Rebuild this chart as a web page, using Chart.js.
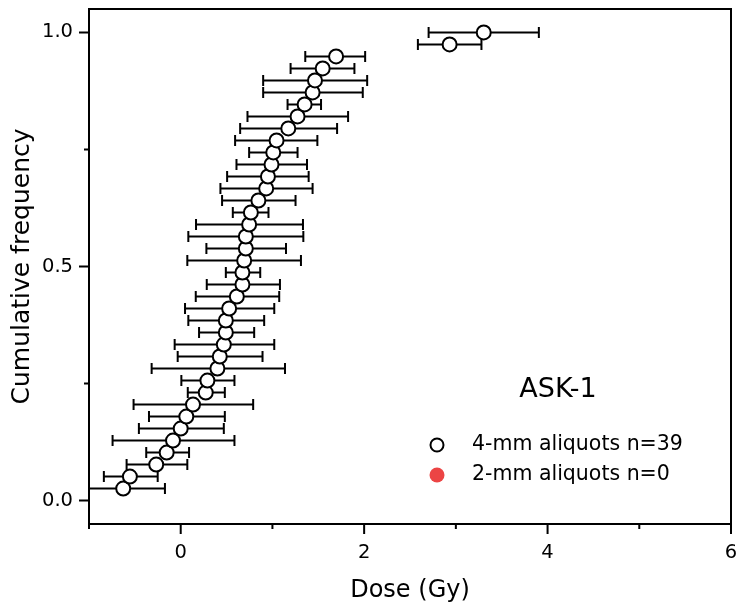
<!DOCTYPE html>
<html>
<head>
<meta charset="utf-8">
<script src="https://cdn.jsdelivr.net/npm/chart.js@4/dist/chart.umd.min.js"></script>
<style>
  html, body { margin: 0; padding: 0; background: #fff; }
  canvas { display: block; }
</style>
</head>
<body>
<canvas id="c" width="740" height="610"></canvas>
<script>
// ---- data ----
const cumFreq = [0.0256, 0.0513, 0.0769, 0.1026, 0.1282, 0.1538, 0.1795, 0.2051, 0.2308, 0.2564,
  0.2821, 0.3077, 0.3333, 0.3590, 0.3846, 0.4103, 0.4359, 0.4615, 0.4872, 0.5128,
  0.5385, 0.5641, 0.5897, 0.6154, 0.6410, 0.6667, 0.6923, 0.7179, 0.7436, 0.7692,
  0.7949, 0.8205, 0.8462, 0.8718, 0.8974, 0.9231, 0.9487, 0.9744, 1.0000];
const dose = [-0.627, -0.554, -0.267, -0.153, -0.084, 0.000, 0.061, 0.134, 0.273, 0.291,
  0.400, 0.426, 0.470, 0.492, 0.492, 0.528, 0.612, 0.673, 0.673, 0.692,
  0.710, 0.710, 0.746, 0.765, 0.847, 0.932, 0.951, 0.990, 1.009, 1.045,
  1.173, 1.274, 1.351, 1.438, 1.464, 1.548, 1.694, 2.932, 3.304];
const doseLow = [-1.100, -0.838, -0.590, -0.376, -0.743, -0.456, -0.346, -0.514, 0.077, 0.007,
  -0.317, -0.033, -0.066, 0.200, 0.083, 0.047, 0.164, 0.284, 0.492, 0.072,
  0.280, 0.083, 0.167, 0.568, 0.451, 0.433, 0.506, 0.608, 0.746, 0.593,
  0.648, 0.728, 1.165, 0.899, 0.899, 1.198, 1.358, 2.586, 2.703];
const doseHigh = [-0.172, -0.251, 0.072, 0.091, 0.586, 0.470, 0.481, 0.790, 0.481, 0.586,
  1.137, 0.892, 1.020, 0.801, 0.910, 1.020, 1.074, 1.082, 0.867, 1.311,
  1.148, 1.337, 1.333, 0.957, 1.252, 1.438, 1.395, 1.377, 1.274, 1.490,
  1.705, 1.825, 1.530, 1.985, 2.033, 1.894, 2.011, 3.279, 3.905];
const xMajorTicks = [0, 2, 4, 6];
const xMinorTicks = [-1, 1, 3, 5];
const yMajorTicks = [0, 0.5, 1.0];
const yMinorTicks = [0.25, 0.75];
const seriesLabels = ['4-mm aliquots n=39', '2-mm aliquots n=0'];
const sampleName = 'ASK-1';

// ---- styling ----
const FONT = '"DejaVu Sans", "Liberation Sans", Arial, sans-serif';
const RED = '#ec4444';
Chart.defaults.font.family = FONT;
Chart.defaults.color = '#000';

const isIn = (v, arr) => arr.some(t => Math.abs(t - v) < 1e-6);
const noPad = s => { s.paddingTop = 0; s.paddingBottom = 0; s.paddingLeft = 0; s.paddingRight = 0; };

const overlay = {
  id: 'overlay',
  beforeDatasetsDraw(chart) {
    const { ctx, chartArea: a, scales: { x, y } } = chart;
    ctx.save();
    ctx.beginPath();
    ctx.rect(a.left, a.top, a.right - a.left, a.bottom - a.top);
    ctx.clip();
    ctx.strokeStyle = '#000';
    ctx.lineWidth = 2;
    ctx.lineCap = 'butt';
    for (let i = 0; i < dose.length; i++) {
      const py = y.getPixelForValue(cumFreq[i]);
      const x1 = x.getPixelForValue(doseLow[i]);
      const x2 = x.getPixelForValue(doseHigh[i]);
      ctx.beginPath();
      ctx.moveTo(x1, py); ctx.lineTo(x2, py);
      ctx.moveTo(x1, py - 5.5); ctx.lineTo(x1, py + 5.5);
      ctx.moveTo(x2, py - 5.5); ctx.lineTo(x2, py + 5.5);
      ctx.stroke();
    }
    ctx.restore();
  },
  afterDraw(chart) {
    const { ctx, chartArea: a, scales: { x, y } } = chart;
    ctx.save();
    ctx.strokeStyle = '#000';
    ctx.lineWidth = 2;
    // frame
    ctx.strokeRect(a.left, a.top, a.right - a.left, a.bottom - a.top);
    // ticks
    ctx.beginPath();
    xMajorTicks.forEach(v => { const p = x.getPixelForValue(v); ctx.moveTo(p, a.bottom); ctx.lineTo(p, a.bottom + 10); });
    xMinorTicks.forEach(v => { const p = x.getPixelForValue(v); ctx.moveTo(p, a.bottom); ctx.lineTo(p, a.bottom + 5); });
    yMajorTicks.forEach(v => { const p = y.getPixelForValue(v); ctx.moveTo(a.left, p); ctx.lineTo(a.left - 10, p); });
    yMinorTicks.forEach(v => { const p = y.getPixelForValue(v); ctx.moveTo(a.left, p); ctx.lineTo(a.left - 5, p); });
    ctx.stroke();

    // sample name and legend (inside plot)
    const ds = chart.data.datasets;
    ctx.fillStyle = '#000';
    ctx.textBaseline = 'middle';
    ctx.textAlign = 'center';
    ctx.font = '27px ' + FONT;
    ctx.fillText(sampleName, 558, 390);

    ctx.textAlign = 'left';
    ctx.font = '20.5px ' + FONT;
    const rows = [445, 475];
    ds.forEach((d, i) => {
      const cy = rows[i];
      ctx.beginPath();
      ctx.arc(437, cy, i === 0 ? 6.5 : 7.5, 0, Math.PI * 2);
      ctx.fillStyle = d.pointBackgroundColor;
      ctx.fill();
      if (i === 0) { ctx.lineWidth = 2; ctx.strokeStyle = d.pointBorderColor; ctx.stroke(); }
      ctx.fillStyle = '#000';
      ctx.fillText(d.label, 472, cy);
    });
    ctx.restore();
  }
};

new Chart(document.getElementById('c'), {
  type: 'scatter',
  data: {
    datasets: [
      {
        label: seriesLabels[0],
        data: dose.map((v, i) => ({ x: v, y: cumFreq[i] })),
        pointRadius: 7,
        pointHoverRadius: 7,
        pointBorderWidth: 2,
        pointBackgroundColor: '#ffffff',
        pointBorderColor: '#000000',
        showLine: false
      },
      {
        label: seriesLabels[1],
        data: [],
        pointRadius: 7,
        pointBackgroundColor: RED,
        pointBorderColor: RED,
        showLine: false
      }
    ]
  },
  options: {
    responsive: false,
    animation: false,
    devicePixelRatio: 1,
    layout: { autoPadding: false, padding: { top: 9, right: 9, left: 0, bottom: 0 } },
    plugins: { legend: { display: false }, tooltip: { enabled: false } },
    scales: {
      x: {
        type: 'linear',
        min: -1, max: 6,
        afterFit: s => { s.height = 86; noPad(s); },
        grid: { display: false, drawTicks: false },
        border: { display: false },
        ticks: {
          stepSize: 1,
          autoSkip: false,
          maxRotation: 0,
          includeBounds: false,
          padding: 17,
          font: { size: 19.5 },
          color: '#000',
          callback: v => isIn(v, xMajorTicks) ? String(v) : ''
        },
        title: {
          display: true,
          text: 'Dose (Gy)',
          font: { size: 24 },
          color: '#000',
          padding: { top: 0, bottom: 5 }
        }
      },
      y: {
        type: 'linear',
        min: -0.05, max: 1.05,
        afterFit: s => { s.width = 89; noPad(s); },
        grid: { display: false, drawTicks: false },
        border: { display: false },
        ticks: {
          stepSize: 0.25,
          autoSkip: false,
          includeBounds: false,
          padding: 16,
          font: { size: 19.5 },
          color: '#000',
          callback: v => isIn(v, yMajorTicks) ? v.toFixed(1) : ''
        },
        title: {
          display: true,
          text: 'Cumulative frequency',
          font: { size: 25 },
          color: '#000',
          padding: { top: 7.5, bottom: 0 }
        }
      }
    }
  },
  plugins: [overlay]
});
</script>
</body>
</html>
